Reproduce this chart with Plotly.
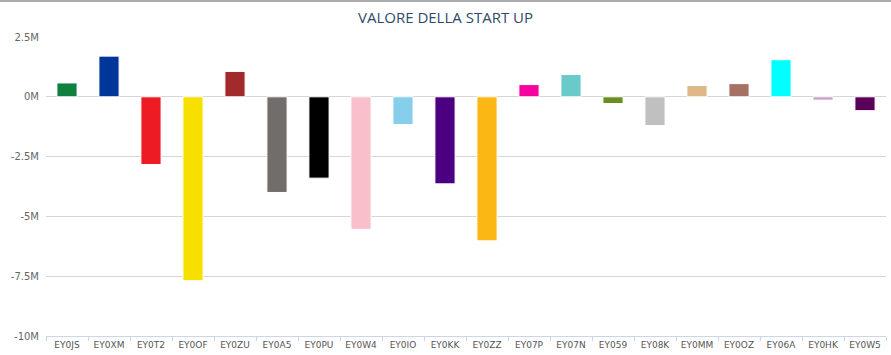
import plotly.graph_objects as go

categories = ["EY0JS", "EY0XM", "EY0T2", "EY0OF", "EY0ZU", "EY0A5", "EY0PU", "EY0W4", "EY0IO", "EY0KK",
              "EY0ZZ", "EY07P", "EY07N", "EY059", "EY08K", "EY0MM", "EY0OZ", "EY06A", "EY0HK", "EY0W5"]
values_m = [0.58, 1.70, -2.83, -7.69, 1.06, -4.00, -3.40, -5.54, -1.16, -3.64,
            -6.02, 0.51, 0.93, -0.28, -1.20, 0.47, 0.55, 1.55, -0.14, -0.58]
bar_colors = ["#0f8040", "#00369a", "#ed1c24", "#f7e000", "#a32a2b", "#716d6b", "#000000", "#f9c0cb",
              "#87ceeb", "#4b0082", "#fbb714", "#f700a0", "#6ac9c9", "#6b8e23", "#c0c0c0", "#deb887",
              "#a57164", "#00ffff", "#c8a2c8", "#5a0058"]
tick_vals_m = [2.5, 0, -2.5, -5, -7.5, -10]
tick_text = ["2.5M", "0M", "-2.5M", "-5M", "-7.5M", "-10M"]

values = [v * 1e6 for v in values_m]
tick_vals = [v * 1e6 for v in tick_vals_m]

fig = go.Figure(go.Bar(
    x=categories, y=values,
    marker=dict(color=bar_colors, line=dict(color="white", width=1)),
    width=0.48,
    hoverinfo="x+y",
))

W, H = 891, 355
ml, mr, mt, mb = 46, 5, 37, 19
ph = H - mt - mb
pw = W - ml - mr

fig.update_layout(
    width=W, height=H,
    margin=dict(l=ml, r=mr, t=mt, b=mb, pad=0),
    paper_bgcolor="white", plot_bgcolor="white",
    showlegend=False,
    title=dict(text="VALORE DELLA START UP", x=0.5, xanchor="center",
               y=1 - 18 / H, yanchor="middle", yref="container",
               font=dict(family="Open Sans", size=15, color="#2e4a6b")),
    xaxis=dict(
        showgrid=False, showline=True, linecolor="#ccd6eb", linewidth=1,
        ticks="outside", ticklen=4, tickcolor="#ccd6eb", tickson="boundaries",
        tickfont=dict(family="DejaVu Sans", size=9, color="#555555"),
        fixedrange=True,
    ),
    yaxis=dict(
        range=[-10e6, 2.5e6], tickvals=tick_vals, ticktext=tick_text,
        showgrid=True, gridcolor="#d6d6d6", gridwidth=1,
        zeroline=True, zerolinecolor="#d6d6d6", zerolinewidth=1,
        showline=False, ticks="", ticklabelstandoff=6,
        tickfont=dict(family="DejaVu Sans", size=10, color="#666666"),
        fixedrange=True,
    ),
    shapes=[dict(type="line", xref="paper", yref="paper",
                 x0=-ml / pw, x1=(W - ml) / pw,
                 y0=(ph + mt - 1) / ph, y1=(ph + mt - 1) / ph,
                 line=dict(color="#aaaaaa", width=2))],
)

fig.write_html("out.html",
               config={"displayModeBar": False},
               post_script="document.body.style.margin='0';document.body.style.overflow='hidden';")
